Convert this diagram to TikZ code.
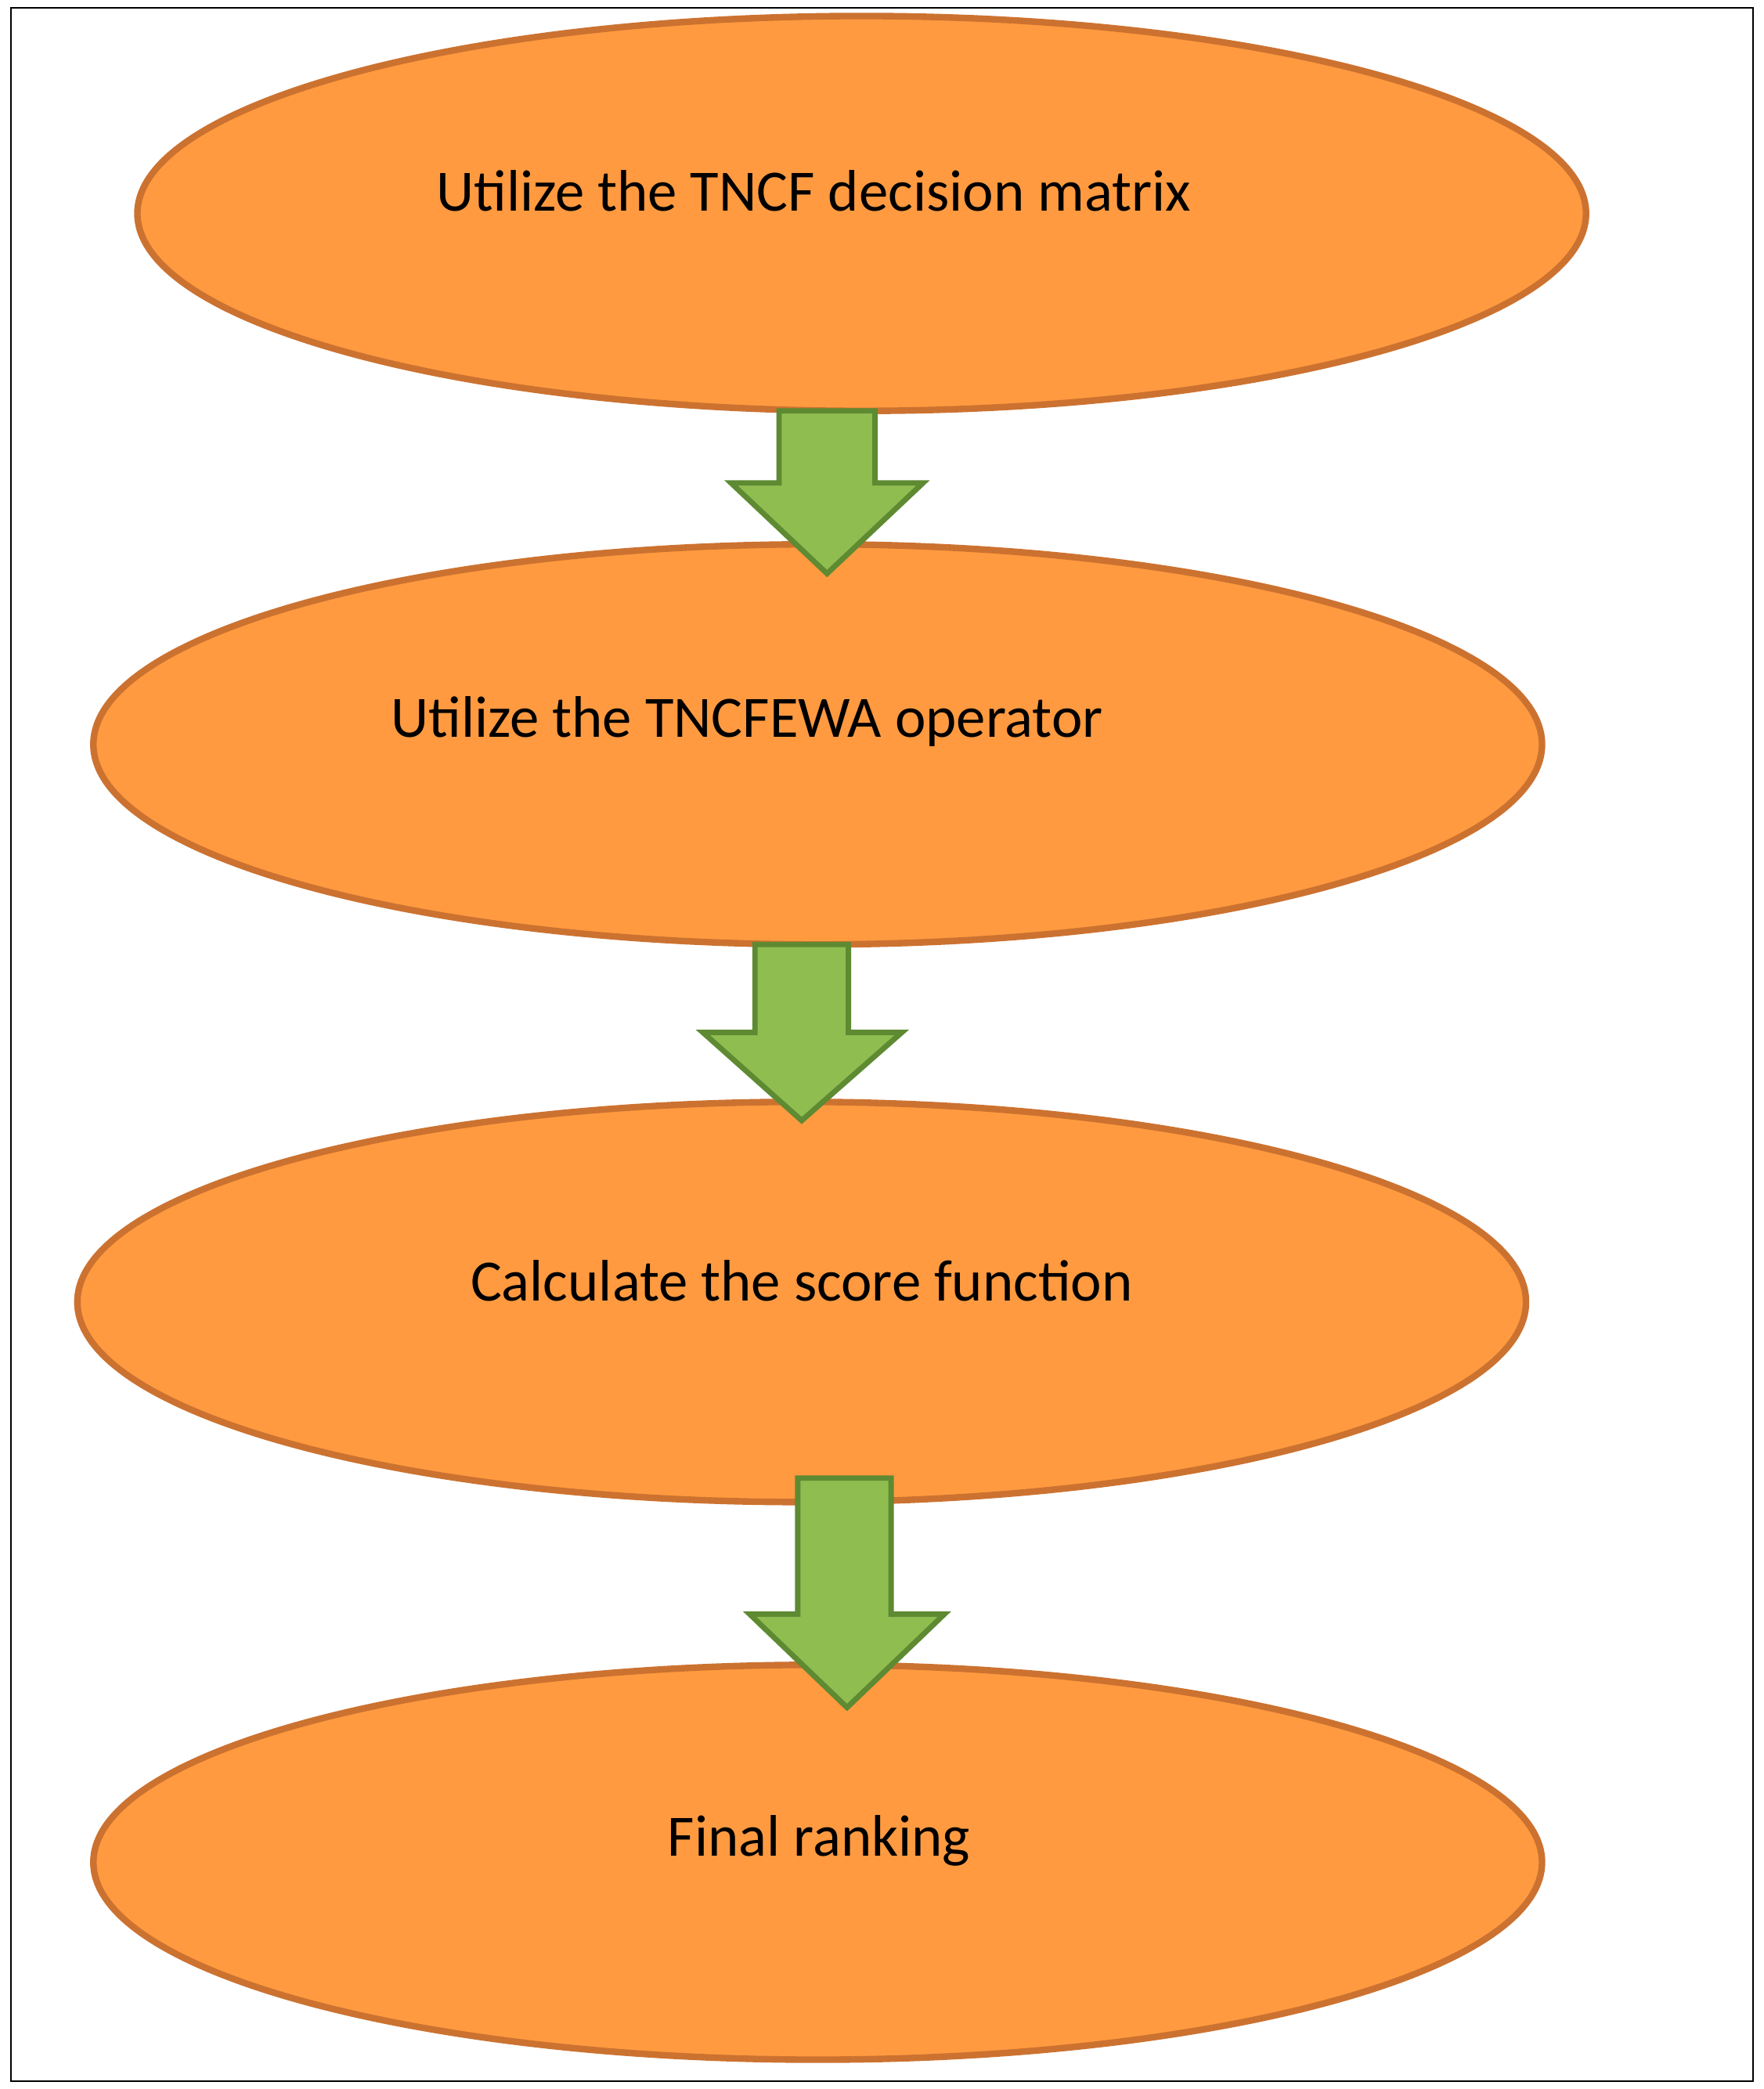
\documentclass[tikz,border=0pt]{standalone}
\usepackage{fontspec}
\setmainfont{Carlito}
\usetikzlibrary{shapes.geometric}
\definecolor{ofill}{HTML}{FF9A40}
\definecolor{oline}{HTML}{CC7230}
\definecolor{gfill}{HTML}{8FBD50}
\definecolor{gline}{HTML}{5E8A32}
\begin{document}
\begin{tikzpicture}[x=0.02cm,y=-0.02cm,
  ell/.style={draw=oline,fill=ofill,line width=2.8pt},
  lbl/.style={font=\fontsize{25}{30}\selectfont,inner sep=0pt},
  arr/.style={draw=gline,fill=gfill,line width=2.3pt,line join=miter}]
\useasboundingbox (0,0) rectangle (1322,1566);
\draw[line width=0.6pt] (8,6) rectangle (1314,1560);
\draw[ell] (646,160) ellipse [x radius=543,y radius=148];
\node[lbl] (t1) at (610,143) {Utilize the TNCF decision matrix};
\draw[ell] (613,558) ellipse [x radius=543,y radius=150];
\node[lbl] (t2) at (560,541) {Utilize the TNCFEWA operator};
\draw[arr] (584,308) -- (656,308) -- (656,362) -- (692,362) -- (620,430) -- (548,362) -- (584,362) -- cycle;
\draw[ell] (601,976) ellipse [x radius=543,y radius=150];
\node[lbl] (t3) at (601,960) {Calculate the score function};
\draw[arr] (566,708) -- (636,708) -- (636,774) -- (676,774) -- (601,840) -- (527,774) -- (566,774) -- cycle;
\draw[ell] (613,1396) ellipse [x radius=543,y radius=148];
\node[lbl] (t4) at (614,1380) {Final ranking};
\draw[arr] (598,1108) -- (668,1108) -- (668,1210) -- (708,1210) -- (635,1280) -- (562,1210) -- (598,1210) -- cycle;
\end{tikzpicture}
\end{document}
